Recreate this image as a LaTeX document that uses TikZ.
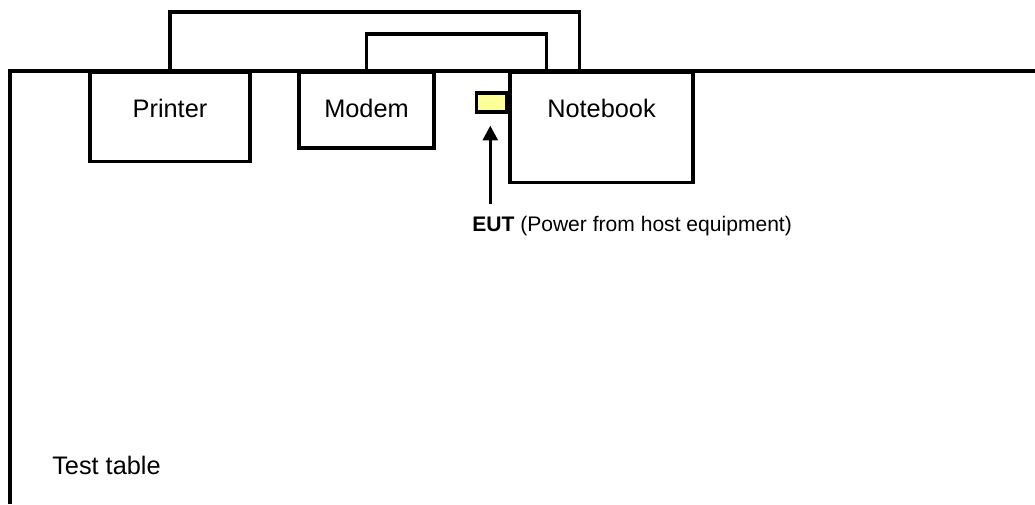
\documentclass[tikz,border=0pt]{standalone}
\usepackage{fontspec}
\setmainfont{Liberation Sans}
\usetikzlibrary{calc, arrows.meta}
\definecolor{eutfill}{HTML}{FFFF99}
\definecolor{linecol}{HTML}{000000}

\begin{document}
\begin{tikzpicture}[
    x=0.75pt, y=-0.75pt,
    font=\fontsize{19}{22}\selectfont,
    unit/.style={draw=linecol, line width=2.4pt, anchor=north, inner sep=0pt, text height=33.4pt, minimum width=#1},
    cable/.style={draw=linecol, line width=2.4pt},
    eut/.style={draw=linecol, fill=eutfill, line width=2.4pt, inner sep=0pt, minimum width=22.5pt, minimum height=14.25pt},
    pointer/.style={-{Triangle[length=11pt, width=11pt]}, line width=2.4pt},
    note/.style={font=\fontsize{15.8}{18}\selectfont, inner sep=0pt}
]
    \useasboundingbox (0,0) rectangle (1035,504);

    % 1. Test table (open on the right and bottom)
    \draw[line width=3pt] (10,504) -- (10,71) -- (1035,71);
    \node[anchor=base west, inner sep=0pt] (table) at (52,474) {Test table};

    % 2. Units on the table
    \node[unit=120pt, text depth=33.4pt] (printer) at (170,71) {Printer};
    \node[unit=101.25pt, text depth=23.2pt] (modem) at (366.5,71) {Modem};
    \node[unit=137.25pt, text depth=49.1pt] (notebook) at (601.5,71) {Notebook};

    % EUT plugged into the notebook
    \node[eut, anchor=east] (eut) at ($(notebook.north west)+(0,31.5)$) {};

    % 3. Cables
    \draw[cable] (printer.north) -- ++(0,-59) -| ($(notebook.north west)+(71,0)$);
    \draw[cable] (modem.north) -- ++(0,-37) -| ($(notebook.north west)+(38,0)$);

    % 4. EUT label and arrow
    \node[note, anchor=base west] (eutnote) at (472,231) {\textbf{EUT} (Power from host equipment)};
    \coordinate (foot) at ($(eut.south)+(-1.5,90)$);
    \draw[pointer] (foot) -- ($(eut.south)+(-1.5,12)$);

\end{tikzpicture}
\end{document}
